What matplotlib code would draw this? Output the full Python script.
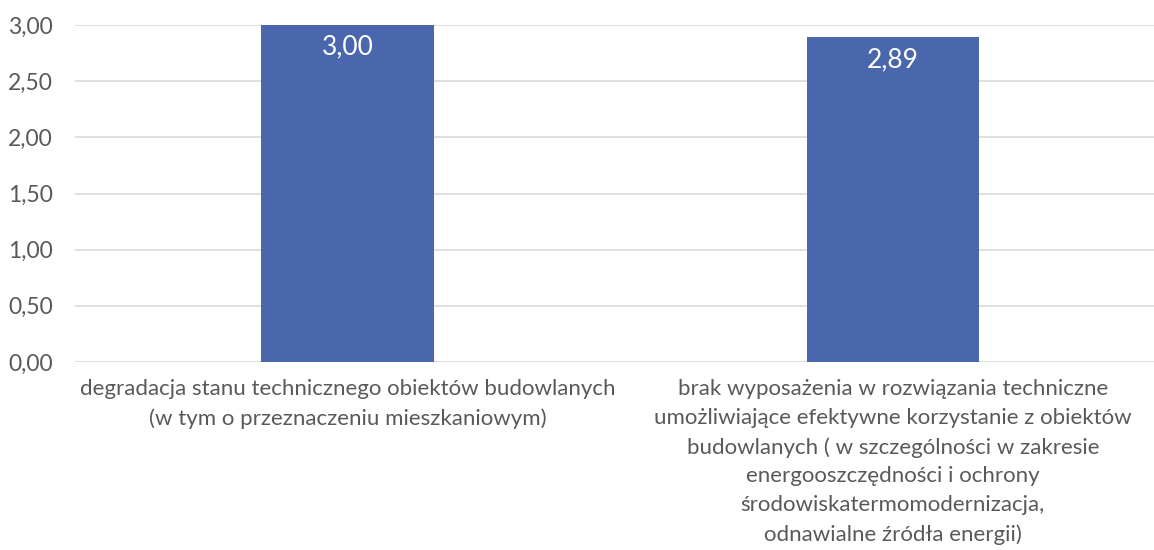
import matplotlib
matplotlib.use("Agg")
from matplotlib import pyplot as plt
from matplotlib.ticker import FuncFormatter

categories = [
    "degradacja stanu technicznego obiektów budowlanych\n(w tym o przeznaczeniu mieszkaniowym)",
    "brak wyposażenia w rozwiązania techniczne\numożliwiające efektywne korzystanie z obiektów\n"
    "budowlanych ( w szczególności w zakresie\nenergooszczędności i ochrony\n"
    "środowiskatermomodernizacja,\nodnawialne źródła energii)",
]
values = [3.00, 2.89]
yticks = [0.0, 0.5, 1.0, 1.5, 2.0, 2.5, 3.0]

plt.rcParams['font.family'] = ['Lato', 'DejaVu Sans']
gray = '#595959'
blue = '#4A66AC'

fig = plt.figure(figsize=(11.54, 5.50), dpi=100)
ax = fig.add_axes([75 / 1154, 1 - 362 / 550, 1079 / 1154, 337 / 550])

x = list(range(len(values)))
bars = ax.bar(x, values, width=0.316, color=blue, zorder=3)

ax.set_ylim(0, 3)
ax.set_xlim(-0.5, 1.5 - 11.5 / 545)
ax.set_yticks(yticks)
ax.yaxis.set_major_formatter(FuncFormatter(lambda v, p: f"{v:.2f}".replace('.', ',')))
ax.grid(axis='y', color='#D9D9D9', linewidth=1.2, zorder=0)
ax.set_axisbelow(True)
for s in ax.spines.values():
    s.set_visible(False)
ax.tick_params(axis='both', length=0, labelsize=16.5, colors=gray)
ax.tick_params(axis='y', pad=16)

ax.set_xticks(x)
ax.set_xticklabels(categories, linespacing=1.56, va='top', fontsize=16)
ax.tick_params(axis='x', pad=12)

# value labels inside the top of each bar
for b, v in zip(bars, values):
    ax.annotate(f"{v:.2f}".replace('.', ','), (b.get_x() + b.get_width() / 2, v),
                xytext=(0, -7), textcoords='offset points',
                ha='center', va='top', color='white', fontsize=19)

fig.savefig("out.png", dpi=100)
